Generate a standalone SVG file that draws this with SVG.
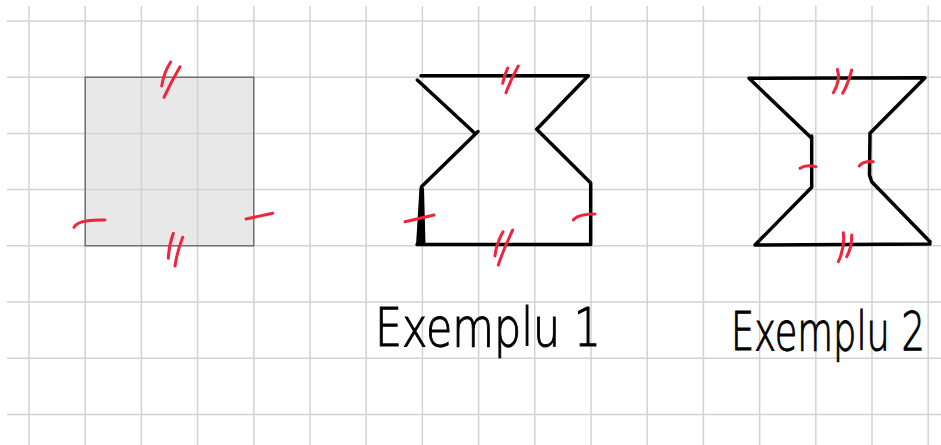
<svg xmlns="http://www.w3.org/2000/svg" width="941" height="445" viewBox="0 0 941 445">
<style>
.grid line{stroke:#d2d2d2;stroke-width:1.5}
.shape{fill:none;stroke:#000;stroke-width:3.5;stroke-linecap:round;stroke-linejoin:round}
.mark{fill:none;stroke:#f2243c;stroke-width:3;stroke-linecap:round}
.lbl{font-family:"DejaVu Sans","Liberation Sans",sans-serif;font-weight:200;font-size:54px;fill:#000;stroke:#000;stroke-width:1.1}
</style>
<rect width="941" height="445" fill="#fff"/>
<g id="square">
<rect x="85.2" y="77.2" width="168.6" height="168.6" fill="#e8e8e8" stroke="none"/>
</g>
<g class="grid">
<line x1="29" y1="6" x2="29" y2="445"/>
<line x1="85.2" y1="6" x2="85.2" y2="445"/>
<line x1="141.4" y1="6" x2="141.4" y2="445"/>
<line x1="197.6" y1="6" x2="197.6" y2="445"/>
<line x1="253.8" y1="6" x2="253.8" y2="445"/>
<line x1="310" y1="6" x2="310" y2="445"/>
<line x1="366.2" y1="6" x2="366.2" y2="445"/>
<line x1="422.4" y1="6" x2="422.4" y2="445"/>
<line x1="478.6" y1="6" x2="478.6" y2="445"/>
<line x1="534.8" y1="6" x2="534.8" y2="445"/>
<line x1="591" y1="6" x2="591" y2="445"/>
<line x1="647.2" y1="6" x2="647.2" y2="445"/>
<line x1="703.4" y1="6" x2="703.4" y2="445"/>
<line x1="759.6" y1="6" x2="759.6" y2="445"/>
<line x1="815.8" y1="6" x2="815.8" y2="445"/>
<line x1="872" y1="6" x2="872" y2="445"/>
<line x1="928.2" y1="6" x2="928.2" y2="445"/>
<line x1="7" y1="21" x2="941" y2="21"/>
<line x1="7" y1="77.2" x2="941" y2="77.2"/>
<line x1="7" y1="133.4" x2="941" y2="133.4"/>
<line x1="7" y1="189.6" x2="941" y2="189.6"/>
<line x1="7" y1="245.8" x2="941" y2="245.8"/>
<line x1="7" y1="302" x2="941" y2="302"/>
<line x1="7" y1="358.2" x2="941" y2="358.2"/>
<line x1="7" y1="414.4" x2="941" y2="414.4"/>
</g>
<g id="square-outline">
<rect x="85.2" y="77.2" width="168.6" height="168.6" fill="none" stroke="#5a5a5a" stroke-width="1.2"/>
<path class="mark" d="M170.7,62 Q164,72 161.7,86 M180,66.7 Q171,82 164,97.3"/>
<path class="mark" d="M173.3,233.3 Q169,245 168.3,258.3 M182.7,237.3 Q177,252 175,266"/>
<path class="mark" d="M74,227.3 Q78,219 105,220"/>
<path class="mark" d="M246,219 L272.7,213.3"/>
</g>
<g id="example1">
<path class="shape" d="M421,75.7 L588.3,75.7 L536.7,129.3 L590.7,183 L590.7,244.5 L417,244.5"/>
<path class="shape" d="M417.3,80 L474,132.5 M478,131.5 L421.5,186.7 L421.5,244"/>
<polygon points="419.5,188 424,188 425.5,245 416,245" fill="#000"/>
<path class="mark" d="M507.7,68 Q504,76 502.7,83.3 M518.3,66 Q511,79 506,92.7"/>
<path class="mark" d="M503,231.7 Q496,244 495,256 M512.7,230 Q504,248 498.3,265"/>
<path class="mark" d="M405,221.7 L434,215"/>
<path class="mark" d="M573.3,220 Q578,214 595,214"/>
</g>
<g id="example2">
<path class="shape" d="M749,78.3 L925,77.7 L870,133.3 L869.5,175 L871.7,181.7 L930,241.7 M930,244 L755,245 L811.7,187.3 L811.7,136 M811.7,138.3 L749,78.3"/>
<path class="mark" d="M837.3,69.3 Q841,80 833.3,92.7 M851.7,70 Q848,84 842.7,93.3"/>
<path class="mark" d="M843.3,232.7 Q845,248 838.3,261.7 M851.7,235 Q852,247 846.7,256.7"/>
<path class="mark" d="M800,168.3 Q806,164 816,166.7"/>
<path class="mark" d="M859.3,166 Q863,161 873.3,161.7"/>
</g>
<g id="labels">
<text class="lbl" x="375" y="346" textLength="226" lengthAdjust="spacingAndGlyphs">Exemplu 1</text>
<text class="lbl" transform="translate(731,350) scale(0.68,1)" x="0" y="0" font-size="58">Exemplu 2</text>
</g>
</svg>
